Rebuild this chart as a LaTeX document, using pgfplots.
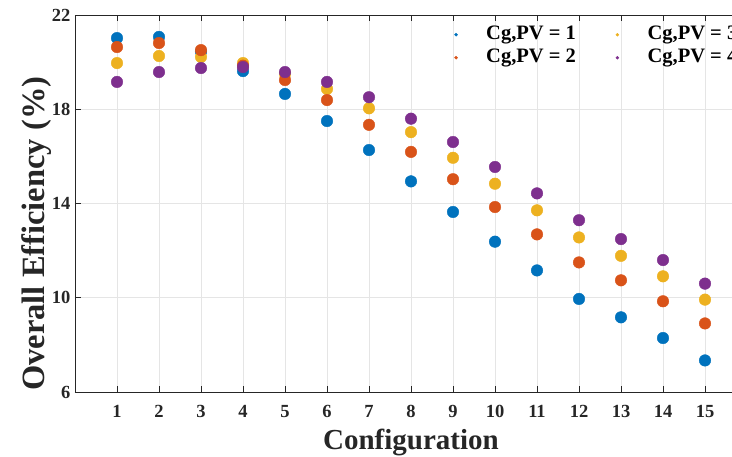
\documentclass[border=0pt]{standalone}
\usepackage{pgfplots}
\pgfplotsset{compat=1.18}
\usepackage{fontspec}
\setmainfont{Liberation Serif}
\definecolor{mblue}{RGB}{0,114,189}
\definecolor{morange}{RGB}{217,83,25}
\definecolor{myellow}{RGB}{237,177,32}
\definecolor{mpurple}{RGB}{126,47,142}
\definecolor{axgray}{RGB}{38,38,38}
\begin{document}
\begin{tikzpicture}
\begin{axis}[
  scale only axis,
  width=672pt, height=377pt,
  xmin=0, xmax=16, ymin=6, ymax=22,
  xtick={1,...,15}, ytick={6,10,14,18,22},
  grid=major,
  grid style={draw=black!10, line width=0.8pt},
  axis line style={draw=axgray, line width=0.8pt},
  tick style={draw=axgray, line width=0.8pt},
  tick align=inside,
  major tick length=6pt,
  /pgf/number format/assume math mode=true,
  ticklabel style={font=\bfseries\fontsize{18.5}{22}\selectfont, text=axgray},
  xticklabel style={yshift=-10pt},
  yticklabel style={xshift=-1pt},
  xlabel={Configuration},
  ylabel={Overall Efficiency (\%)},
  xlabel style={font=\bfseries\fontsize{29}{32}\selectfont, text=axgray, yshift=-4pt},
  ylabel style={font=\bfseries\fontsize{32.5}{35}\selectfont, text=axgray, at={(ticklabel cs:0.42)}, yshift=-6pt},
  legend columns=2,
  legend style={at={(0.56,0.984)}, anchor=north west, draw=none, fill=none,
    font=\bfseries\fontsize{20.5}{22}\selectfont, text=black,
    nodes={inner ysep=1pt, text height=15.5pt, text depth=5.5pt},
    /tikz/every even column/.append style={column sep=38pt},
    row sep=0pt},
  legend cell align=left,
  legend image code/.code={\path (0pt,0pt) (28pt,0pt); \draw[#1, mark size=1.5pt] plot coordinates {(0pt,0pt)};},
]
\addplot[only marks, mark=*, mark size=5.8pt, color=mblue] coordinates {
(1,21.02)(2,21.07)(3,20.45)(4,19.62)(5,18.65)(6,17.50)(7,16.27)(8,14.94)(9,13.64)(10,12.38)(11,11.16)(12,9.95)(13,9.17)(14,8.29)(15,7.34)};
\addlegendentry{Cg,PV = 1}
\addplot[only marks, mark=*, mark size=5.8pt, color=myellow] coordinates {
(1,19.96)(2,20.26)(3,20.22)(4,19.96)(5,19.50)(6,18.86)(7,18.04)(8,17.03)(9,15.94)(10,14.84)(11,13.71)(12,12.56)(13,11.78)(14,10.91)(15,9.92)};
\addlegendentry{Cg,PV = 3}
\addplot[only marks, mark=*, mark size=5.8pt, color=morange] coordinates {
(1,20.64)(2,20.81)(3,20.51)(4,19.85)(5,19.24)(6,18.39)(7,17.34)(8,16.19)(9,15.03)(10,13.85)(11,12.69)(12,11.50)(13,10.74)(14,9.85)(15,8.91)};
\addlegendentry{Cg,PV = 2}
\addplot[only marks, mark=*, mark size=5.8pt, color=mpurple] coordinates {
(1,19.16)(2,19.58)(3,19.75)(4,19.79)(5,19.58)(6,19.16)(7,18.51)(8,17.60)(9,16.61)(10,15.55)(11,14.43)(12,13.29)(13,12.49)(14,11.60)(15,10.60)};
\addlegendentry{Cg,PV = 4}
\end{axis}
\pgfresetboundingbox
\path[use as bounding box] (-75pt,-64pt) rectangle (657pt,392pt);
\end{tikzpicture}
\end{document}
